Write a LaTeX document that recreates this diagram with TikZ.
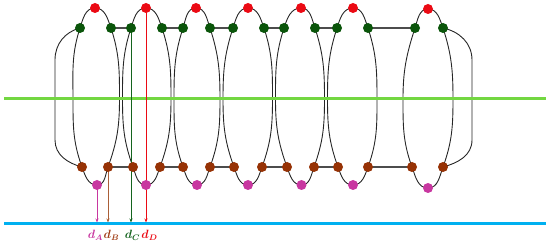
\documentclass[tikz,border=0pt]{standalone}
\usetikzlibrary{arrows.meta}
\usepackage{amsmath,bm}
\definecolor{cRed}{RGB}{235,10,20}
\definecolor{cGreen}{RGB}{10,85,10}
\definecolor{cBrown}{RGB}{150,50,5}
\definecolor{cMag}{RGB}{200,55,160}
\definecolor{cLine}{RGB}{115,215,65}
\definecolor{cBlue}{RGB}{0,176,240}
\definecolor{cBrownA}{RGB}{170,95,55}
\definecolor{cBrownT}{RGB}{160,60,20}
\definecolor{cGreenA}{RGB}{20,100,30}
\begin{document}
\begin{tikzpicture}[x=1pt,y=-1pt,
  dot/.style={circle,inner sep=0pt,minimum size=10pt},
  reddot/.style={dot,fill=cRed},
  greendot/.style={dot,fill=cGreen},
  browndot/.style={dot,fill=cBrown},
  magdot/.style={dot,fill=cMag},
  strand/.style={line width=0.9pt,black!85},
  bar/.style={line width=1.4pt,black!70},
  band/.style={line width=3pt},
  meas/.style={line width=0.8pt,-{Stealth[length=4pt,width=3pt]}},
  lab/.style={anchor=base,inner sep=0pt,font=\fontsize{12}{14}\selectfont}]
\useasboundingbox (0,0) rectangle (550,246);

\foreach \i/\r/\ry/\gl/\gr/\ml/\mr/\bl/\br/\m/\my in {
  1/95/8/80/111/73/119.5/82/108/97/185,
  2/146/8/131/162/122.5/171/133/160/146/185,
  3/196/8/183/210/174/220/183/210/197/185,
  4/248/8/233/264/223/272.5/234/262/248/185,
  5/301/8/284/315/275.5/324.5/287/314/301.5/185,
  6/353/8/337/368/327.5/377/338/368/353/185,
  7/428/9/415/443/403/453/412/443/428/188}{
  \coordinate (r\i) at (\r,\ry);
  \coordinate (gl\i) at (\gl,28);
  \coordinate (gr\i) at (\gr,28);
  \coordinate (ml\i) at (\ml,99);
  \coordinate (mr\i) at (\mr,99);
  \coordinate (bl\i) at (\bl,167);
  \coordinate (br\i) at (\br,167);
  \coordinate (m\i) at (\m,\my);
}
\coordinate (oL1) at (55,60);
\coordinate (oL2) at (55,140);
\coordinate (oR1) at (472,60);
\coordinate (oR2) at (472,140);
\coordinate (gA) at (4,99);
\coordinate (gB) at (546,99);
\coordinate (bA) at (4,224);
\coordinate (bB) at (546,224);
\coordinate (tA) at (97,222.5);
\coordinate (tB) at (108,222.5);
\coordinate (tC) at (131,222.5);
\coordinate (tD) at (146,222.5);

% loops
\foreach \i in {1,...,7}{
  \draw[strand] (r\i) to[out=0,in=110] (gr\i) to[out=-72,in=90] (mr\i)
    to[out=-90,in=70] (br\i) to[out=-110,in=0] (m\i)
    to[out=180,in=-70] (bl\i) to[out=110,in=-90] (ml\i)
    to[out=90,in=-108] (gl\i) to[out=72,in=180] (r\i);
}
% outer ends
\draw[strand] (gl1) to[out=195,in=90] (oL1) -- (oL2) to[out=-90,in=165] (bl1);
\draw[strand] (gr7) to[out=-12,in=90] (oR1) -- (oR2) to[out=-90,in=15] (br7);
% bars
\foreach \a/\b in {1/2,2/3,3/4,4/5,5/6,6/7}{
  \draw[bar] (gr\a) -- (gl\b);
  \draw[bar] (br\a) -- (bl\b);
}
% bands
\draw[band,cLine] (gA) -- (gB);
\draw[band,cBlue] (bA) -- (bB);
% arrows
\draw[meas,cMag] (m1) -- (tA);
\draw[meas,cBrownA] (br1) -- (tB);
\draw[meas,cGreenA] (gl2) -- (tC);
\draw[meas,cRed] (r2) -- (tD);
% dots
\foreach \i in {1,...,7}{
  \node[reddot] (R\i) at (r\i) {};
  \node[greendot] (GL\i) at (gl\i) {};
  \node[greendot] (GR\i) at (gr\i) {};
  \node[browndot] (BL\i) at (bl\i) {};
  \node[browndot] (BR\i) at (br\i) {};
  \node[magdot] (M\i) at (m\i) {};
}
% labels
\node[lab,text=cMag] (lA) at (95.5,239) {$\boldsymbol{d_A}$};
\node[lab,text=cBrownT] (lB) at (111.5,239) {$\boldsymbol{d_B}$};
\node[lab,text=cGreenA] (lC) at (132.5,239) {$\boldsymbol{d_C}$};
\node[lab,text=cRed] (lD) at (149.5,239) {$\boldsymbol{d_D}$};
\end{tikzpicture}
\end{document}
